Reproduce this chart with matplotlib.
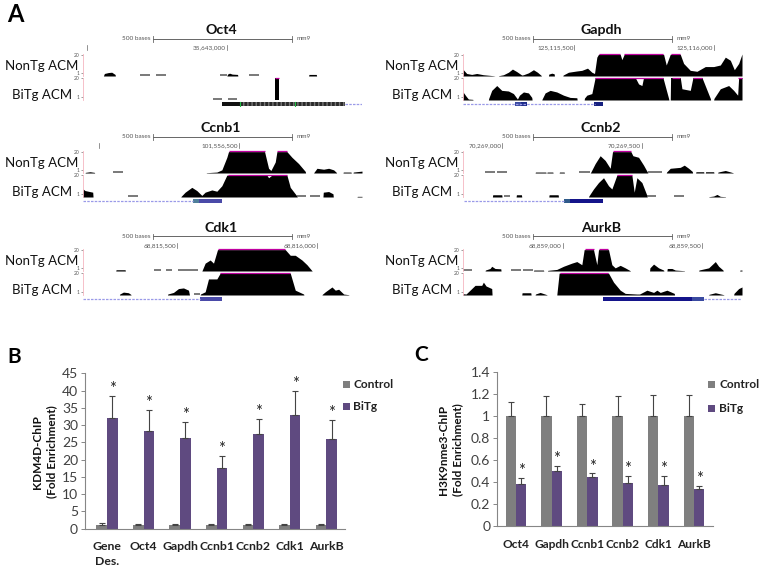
import matplotlib
matplotlib.use("Agg")
import matplotlib.pyplot as plt

plt.rcParams['font.family'] = ['Lato', 'DejaVu Sans']

W, H = 764, 570

# === Track data: (position, signal height), height 68 = clipped at the top ===
oct4_non = [(310, 0), (313, 8), (325, 11), (335, 12), (345, 5), (346, 0), (680, 0), (682, 6), (688, 9), (696, 6), (712, 5), (713, 0), (925, 0), (926, 5), (948, 5), (949, 0)]
oct4_bi = [(824, 0), (824, 70), (837, 70), (837, 0)]
gapdh_non = [(248, 0), (249, 21), (260, 8), (275, 5), (290, 8), (310, 4), (340, 1), (345, 0), (355, 0), (356, 1), (370, 4), (385, 12), (397, 22), (410, 14), (425, 3), (430, 4), (445, 10), (460, 20), (472, 12), (483, 2), (484, 0), (505, 0), (506, 6), (515, 9), (522, 7), (523, 0), (548, 0), (549, 3), (565, 12), (590, 16), (605, 18), (622, 25), (635, 12), (643, 8), (650, 60), (655, 69), (720, 69), (725, 52), (732, 69), (850, 69), (858, 35), (870, 69), (900, 69), (910, 40), (930, 18), (950, 15), (975, 30), (1000, 30), (1020, 35), (1035, 60), (1050, 50), (1062, 20), (1075, 40), (1085, 70)]
gapdh_bi = [(248, 0), (249, 25), (258, 12), (265, 3), (278, 2), (279, 0), (325, 0), (326, 5), (335, 30), (350, 45), (365, 30), (385, 28), (400, 20), (412, 3), (418, 15), (430, 25), (445, 22), (455, 8), (456, 0), (485, 0), (486, 3), (495, 22), (510, 30), (530, 25), (550, 15), (570, 8), (590, 7), (591, 0), (612, 0), (613, 6), (620, 15), (635, 20), (645, 70), (765, 70), (775, 50), (785, 45), (790, 70), (848, 70), (865, 5), (866, 0), (870, 0), (871, 70), (900, 70), (905, 35), (930, 30), (938, 70), (965, 70), (990, 5), (991, 0), (1000, 0), (1001, 5), (1020, 35), (1045, 45), (1060, 30), (1072, 15), (1075, 70), (1085, 70)]
ccnb1_non = [(255, 0), (256, 2), (270, 4), (283, 2), (284, 0), (618, 0), (619, 1), (650, 3), (665, 10), (680, 50), (685, 68), (793, 68), (805, 15), (812, 8), (825, 35), (830, 68), (860, 68), (875, 50), (895, 30), (915, 5), (916, 0), (940, 0), (941, 2), (950, 15), (970, 12), (985, 15), (1000, 10), (1008, 2), (1009, 0), (1028, 0), (1029, 3), (1052, 3), (1053, 0), (1058, 0), (1059, 3), (1085, 6)]
ccnb1_bi = [(248, 0), (249, 25), (255, 20), (278, 15), (279, 0), (542, 0), (543, 2), (555, 15), (575, 30), (590, 20), (605, 5), (615, 15), (635, 22), (650, 18), (665, 35), (680, 68), (800, 68), (805, 60), (815, 68), (860, 68), (870, 30), (890, 3), (891, 0), (968, 0), (969, 15), (985, 17), (998, 10), (999, 0), (1070, 0), (1071, 2), (1085, 2)]
cdk1_non = [(347, 0), (348, 4), (375, 4), (376, 0), (605, 0), (606, 2), (615, 25), (630, 35), (640, 25), (652, 68), (855, 68), (870, 50), (885, 50), (905, 35), (920, 20), (935, 1), (936, 0)]
cdk1_bi = [(358, 0), (359, 3), (370, 9), (385, 7), (392, 2), (393, 0), (502, 0), (503, 3), (520, 8), (535, 20), (550, 22), (565, 15), (568, 0), (600, 0), (601, 3), (615, 10), (625, 50), (650, 50), (660, 68), (870, 68), (885, 15), (910, 3), (911, 0), (965, 0), (966, 2), (975, 10), (995, 25), (1005, 15), (1015, 18), (1030, 3), (1045, 1), (1046, 0)]
ccnb2_non = [(465, 0), (466, 3), (497, 3), (498, 0), (500, 0), (501, 3), (518, 3), (519, 0), (537, 0), (538, 3), (552, 3), (553, 0), (630, 0), (631, 1), (645, 30), (660, 55), (675, 40), (690, 15), (697, 68), (752, 68), (758, 55), (775, 50), (790, 25), (802, 2), (803, 0), (858, 0), (859, 3), (870, 15), (900, 18), (912, 25), (925, 15), (936, 5), (937, 0), (946, 0), (947, 4), (970, 4), (971, 0), (975, 0), (976, 4), (1000, 4), (1001, 0), (1012, 0), (1013, 3), (1035, 8), (1058, 1), (1059, 0)]
ccnb2_bi = [(337, 0), (338, 7), (365, 7), (366, 0), (408, 0), (409, 7), (424, 7), (425, 0), (506, 0), (507, 7), (534, 7), (535, 0), (625, 0), (626, 3), (640, 25), (655, 45), (670, 60), (685, 35), (695, 25), (710, 68), (755, 68), (762, 15), (770, 60), (785, 45), (800, 5), (801, 0), (985, 0), (986, 1), (1000, 3), (1010, 8), (1020, 2), (1035, 1), (1036, 0)]
aurkb_non = [(315, 0), (316, 3), (330, 8), (335, 15), (345, 8), (362, 7), (363, 0), (460, 0), (461, 3), (490, 3), (491, 0), (502, 0), (503, 2), (530, 5), (550, 15), (575, 25), (590, 30), (605, 20), (612, 68), (640, 68), (650, 20), (655, 68), (685, 68), (695, 20), (705, 10), (720, 18), (735, 10), (750, 1), (751, 0), (808, 0), (809, 10), (820, 22), (835, 10), (850, 3), (851, 0), (860, 0), (861, 8), (875, 8), (885, 3), (912, 1), (913, 0), (955, 0), (956, 3), (985, 10), (1005, 30), (1015, 15), (1028, 3), (1029, 0), (1078, 0), (1079, 3), (1085, 3)]
aurkb_bi = [(248, 0), (249, 4), (258, 3), (270, 15), (285, 30), (305, 30), (310, 40), (318, 28), (335, 20), (336, 0), (425, 0), (426, 7), (452, 7), (453, 0), (465, 0), (466, 3), (480, 8), (500, 1), (501, 0), (530, 0), (531, 10), (537, 68), (685, 68), (700, 40), (720, 15), (735, 5), (770, 3), (778, 3), (800, 15), (820, 8), (830, 15), (840, 8), (860, 15), (882, 5), (883, 0), (985, 0), (986, 2), (1005, 7), (1030, 1), (1031, 0), (1060, 0), (1061, 5), (1075, 20), (1085, 25)]

# grey low-signal dashes and magenta clip marks, (start, end)
oct4_non_dash = [(420, 450), (468, 498), (660, 680), (745, 775)]
oct4_bi_dash = [(638, 665), (682, 710)]
oct4_bi_clip = [(824, 837)]
gapdh_non_clip = [(657, 718), (732, 848), (872, 900)]
gapdh_bi_clip = [(645, 848), (875, 900), (938, 965), (1072, 1085)]
ccnb1_non_dash = [(340, 370)]
ccnb1_bi_dash = [(385, 415), (890, 918), (928, 958)]
ccnb1_non_clip = [(685, 793), (830, 860)]
ccnb1_bi_clip = [(682, 860)]
cdk1_non_dash = [(463, 482), (497, 515), (535, 595)]
cdk1_bi_dash = [(582, 600)]
cdk1_non_clip = [(652, 855)]
cdk1_bi_clip = [(660, 870)]
ccnb2_non_dash = [(315, 345), (352, 382), (598, 630), (802, 845)]
ccnb2_bi_dash = [(373, 390), (800, 828), (882, 912)]
ccnb2_non_clip = [(697, 752)]
ccnb2_bi_clip = [(710, 755)]
aurkb_non_dash = [(248, 275), (392, 422), (430, 460)]
aurkb_non_clip = [(615, 640), (655, 683)]
aurkb_bi_clip = [(540, 683)]

# gene models: dashed intron span, then boxes (start, end, colour)
oct4_gene = ((1035, 1085), [(665, 718, '#111111'), (718, 1035, '#2a2a2a')])
gapdh_gene = ((250, 645), [(406, 422, '#3a4aa0'), (422, 440, '#1c2a88'), (642, 667, '#16207f')])
ccnb1_gene = ((248, 580), [(580, 597, '#4f7f9a'), (597, 665, '#4a4aa8')])
cdk1_gene = ((248, 600), [(600, 665, '#4a4aa8')])
ccnb2_gene = ((252, 552), [(552, 571, '#2f5a8a'), (571, 667, '#14148a')])
aurkb_gene = ((972, 1085), [(667, 935, '#14148a'), (935, 972, '#3a4aa0')])

# position labels: (right end, text)
oct4_pos = [(262, ''), (680, '35,643,000')]
gapdh_pos = [(583, '125,115,500'), (1000, '125,116,000')]
ccnb1_pos = [(297, ''), (716, '101,556,500')]
cdk1_pos = [(532, '68,815,500'), (950, '68,816,000')]
ccnb2_pos = [(367, '70,269,000'), (785, '70,269,500')]
aurkb_pos = [(548, '68,859,000'), (965, '68,859,500')]

# === Bar chart data ===
b_genes = ['Gene\nDes.', 'Oct4', 'Gapdh', 'Ccnb1', 'Ccnb2', 'Cdk1', 'AurkB']
b_control = [1, 1, 1, 1, 1, 1, 1]
b_control_err = [0.6, 0.5, 0.5, 0.5, 0.5, 0.5, 0.5]
b_bitg = [32.2, 28.2, 26.2, 17.5, 27.5, 33, 26]
b_bitg_err = [6.2, 6.3, 4.6, 3.5, 4.3, 7, 5.5]
b_ticks = [0, 5, 10, 15, 20, 25, 30, 35, 40, 45]

c_genes = ['Oct4', 'Gapdh', 'Ccnb1', 'Ccnb2', 'Cdk1', 'AurkB']
c_control = [1, 1, 1, 1, 1, 1]
c_control_err = [0.13, 0.18, 0.11, 0.18, 0.19, 0.19]
c_bitg = [0.38, 0.5, 0.445, 0.39, 0.37, 0.34]
c_bitg_err = [0.06, 0.05, 0.035, 0.065, 0.085, 0.025]
c_ticks = [0, 0.2, 0.4, 0.6, 0.8, 1, 1.2, 1.4]
c_ticklabels = ['0', '0.2', '0.4', '0.6', '0.8', '1', '1.2', '1.4']

fig = plt.figure(figsize=(W / 100, H / 100), dpi=100)


def ax_px(x0, y0, x1, y1):
    return fig.add_axes([x0 / W, 1 - y1 / H, (x1 - x0) / W, (y1 - y0) / H])


def text_px(x, y, s, **kw):
    fig.text(x / W, 1 - y / H, s, **kw)


def draw_track(x0, y0, y1, pts, dashes, clips):
    ax = ax_px(x0 + 82.7, y0, x0 + 362, y1)
    ax.patch.set_alpha(0)
    ax.set_xlim(248, 1085)
    ax.set_ylim(0, 70)
    if pts:
        ax.fill_between([p[0] for p in pts], 0, [p[1] for p in pts], color='black', lw=0)
    for a, b in dashes:
        ax.plot([a, b], [2, 2], color='#555555', lw=1.1, solid_capstyle='butt')
    for a, b in clips:
        ax.plot([a, b], [68.5, 68.5], color='#c000a0', lw=0.9, solid_capstyle='butt', clip_on=False)
    for s in ['top', 'right', 'bottom']:
        ax.spines[s].set_visible(False)
    ax.spines['left'].set_color('#f5b5c0')
    ax.spines['left'].set_linewidth(0.6)
    ax.set_xticks([])
    ax.set_yticks([10, 68])
    ax.set_yticklabels(['1', '20'], fontsize=3.6, color='#555555')
    ax.tick_params(axis='y', length=1.5, width=0.4, pad=0.5, color='#555555')


def draw_panel(x0, ruler_y, dy, title, pos, non, bi, gene):
    # ruler_y is the pixel row of the ruler, dy the top of the first track
    text_px(x0 + 221, ruler_y - 9, title, fontsize=10.2, fontweight='bold',
            ha='center', va='center', color='#111111')
    ax = ax_px(x0 + 82.7, ruler_y - 4, x0 + 362, ruler_y + 14)
    ax.axis('off')
    ax.set_xlim(248, 1085)
    ax.set_ylim(1, 0)
    ax.plot([458, 875], [0.22, 0.22], color='#666666', lw=0.7)
    for xp in [458, 875]:
        ax.plot([xp, xp], [0.06, 0.38], color='#666666', lw=0.6)
    ax.text(452, 0.22, '500 bases', fontsize=4.6, ha='right', va='center', color='#555555')
    ax.text(888, 0.22, 'mm9', fontsize=4.6, ha='left', va='center', color='#555555')
    for xp, label in pos:
        ax.plot([xp, xp], [0.56, 0.86], color='#666666', lw=0.5)
        if label:
            ax.text(xp - 3, 0.71, label, fontsize=4.6, ha='right', va='center', color='#555555')

    draw_track(x0, dy, dy + 22, non[0], non[1], non[2])
    draw_track(x0, dy + 23.5, dy + 46, bi[0], bi[1], bi[2])
    text_px(x0 + 42, dy + 12, 'NonTg ACM', fontsize=9.5, ha='center', va='center', color='#111111')
    text_px(x0 + 42.5, dy + 41, 'BiTg ACM', fontsize=9.5, ha='center', va='center', color='#111111')

    gx = ax_px(x0 + 82.7, dy + 47, x0 + 362, dy + 53)
    gx.axis('off')
    gx.set_xlim(248, 1085)
    gx.set_ylim(0, 1)
    gx.plot(gene[0], [0.5, 0.5], color='#9a9ae8', lw=0.9, ls=(0, (2, 1)))
    for a, b, c in gene[1]:
        gx.fill_between([a, b], 0.1, 0.9, color=c, lw=0)
    return gx


# === Panel A tracks ===
gx = draw_panel(0, 39, 54, 'Oct4', oct4_pos, (oct4_non, oct4_non_dash, []),
                (oct4_bi, oct4_bi_dash, oct4_bi_clip), oct4_gene)
gx.fill_between([718, 1035], 0.1, 0.9, facecolor='#2a2a2a', edgecolor='#777777', hatch='||||', lw=0)
gx.plot([718, 718], [0.1, 0.9], color='#22bb44', lw=0.8)
gx.plot([885, 885], [0.1, 0.9], color='#22bb44', lw=0.8)
draw_panel(380, 39, 54, 'Gapdh', gapdh_pos, (gapdh_non, [], gapdh_non_clip),
           (gapdh_bi, [], gapdh_bi_clip), gapdh_gene)
draw_panel(0, 137, 151, 'Ccnb1', ccnb1_pos, (ccnb1_non, ccnb1_non_dash, ccnb1_non_clip),
           (ccnb1_bi, ccnb1_bi_dash, ccnb1_bi_clip), ccnb1_gene)
draw_panel(380, 137, 151, 'Ccnb2', ccnb2_pos, (ccnb2_non, ccnb2_non_dash, ccnb2_non_clip),
           (ccnb2_bi, ccnb2_bi_dash, ccnb2_bi_clip), ccnb2_gene)
draw_panel(0, 236.5, 249, 'Cdk1', cdk1_pos, (cdk1_non, cdk1_non_dash, cdk1_non_clip),
           (cdk1_bi, cdk1_bi_dash, cdk1_bi_clip), cdk1_gene)
draw_panel(380, 236.5, 249, 'AurkB', aurkb_pos, (aurkb_non, aurkb_non_dash, aurkb_non_clip),
           (aurkb_bi, [], aurkb_bi_clip), aurkb_gene)


# === Bar panels ===
def draw_bars(rect, xlim, genes, control, control_err, bitg, bitg_err, ylim, ticks, ticklabels, star_gap, label_size):
    ax = ax_px(*rect)
    xs = list(range(len(genes)))
    w = 0.29
    xc = [x - w / 2 for x in xs]
    xb = [x + w / 2 for x in xs]
    zeros = [0] * len(genes)
    ax.bar(xc, control, w, color='#7f7f7f')
    ax.bar(xb, bitg, w, color='#5f4a80')
    ekw = dict(fmt='none', ecolor='#444444', elinewidth=0.8, capsize=2.3, capthick=0.8)
    ax.errorbar(xc, control, yerr=[zeros, control_err], **ekw)
    ax.errorbar(xb, bitg, yerr=[zeros, bitg_err], **ekw)
    for x, v, e in zip(xb, bitg, bitg_err):
        ax.text(x, v + e + star_gap, '*', fontsize=12, ha='center', va='center', color='#222222')
    ax.set_xlim(*xlim)
    ax.set_ylim(*ylim)
    ax.set_xticks(xs)
    ax.set_xticklabels(genes, fontsize=label_size, fontweight='bold', color='#222222', linespacing=1.4)
    ax.set_yticks(ticks)
    ax.set_yticklabels(ticklabels, fontsize=10, color='#404040')
    ax.tick_params(axis='x', length=0, pad=9)
    ax.tick_params(axis='y', length=3, width=0.7, color='#868686', pad=2)
    for s in ['top', 'right']:
        ax.spines[s].set_visible(False)
    for s in ['left', 'bottom']:
        ax.spines[s].set_color('#868686')
        ax.spines[s].set_linewidth(0.8)
    return ax


draw_bars((85, 373.3, 345, 528.7), (-0.6, 6.51), b_genes, b_control, b_control_err,
          b_bitg, b_bitg_err, (0, 45), b_ticks, [str(t) for t in b_ticks], 2.0, 8.8)
draw_bars((497.3, 372, 712.7, 526), (-0.525, 5.525), c_genes, c_control, c_control_err,
          c_bitg, c_bitg_err, (0, 1.4), c_ticks, c_ticklabels, 0.06, 8.6)

# legends drawn by hand, they sit beside the axes like in the original
lax = ax_px(0, 0, W, H)
lax.axis('off')
lax.patch.set_alpha(0)
lax.set_xlim(0, W)
lax.set_ylim(H, 0)
for lx, tx, y1, y2, size in [(343, 353, 384, 406, 7), (708, 719, 384, 408, 7)]:
    lax.fill_between([lx, lx + size], y1 - size / 2, y1 + size / 2, color='#7f7f7f', lw=0)
    lax.fill_between([lx, lx + size], y2 - size / 2, y2 + size / 2, color='#5f4a80', lw=0)
    lax.text(tx, y1, 'Control', fontsize=8.6, fontweight='bold', va='center', color='#222222')
    lax.text(tx, y2, 'BiTg', fontsize=8.6, fontweight='bold', va='center', color='#222222')

text_px(45, 452, 'KDM4D-ChIP\n(Fold Enrichment)', fontsize=8.5, fontweight='bold', rotation=90,
        ha='center', va='center', color='#111111', linespacing=1.35)
text_px(451, 450, 'H3K9nme3-ChIP\n(Fold Enrichment)', fontsize=8.5, fontweight='bold', rotation=90,
        ha='center', va='center', color='#111111', linespacing=1.35)

text_px(15, 15, 'A', fontsize=17, fontweight='bold', ha='center', va='center', color='black')
text_px(14, 357, 'B', fontsize=15, fontweight='bold', ha='center', va='center', color='black')
text_px(421, 355, 'C', fontsize=15, fontweight='bold', ha='center', va='center', color='black')

fig.savefig("out.png", dpi=100)
